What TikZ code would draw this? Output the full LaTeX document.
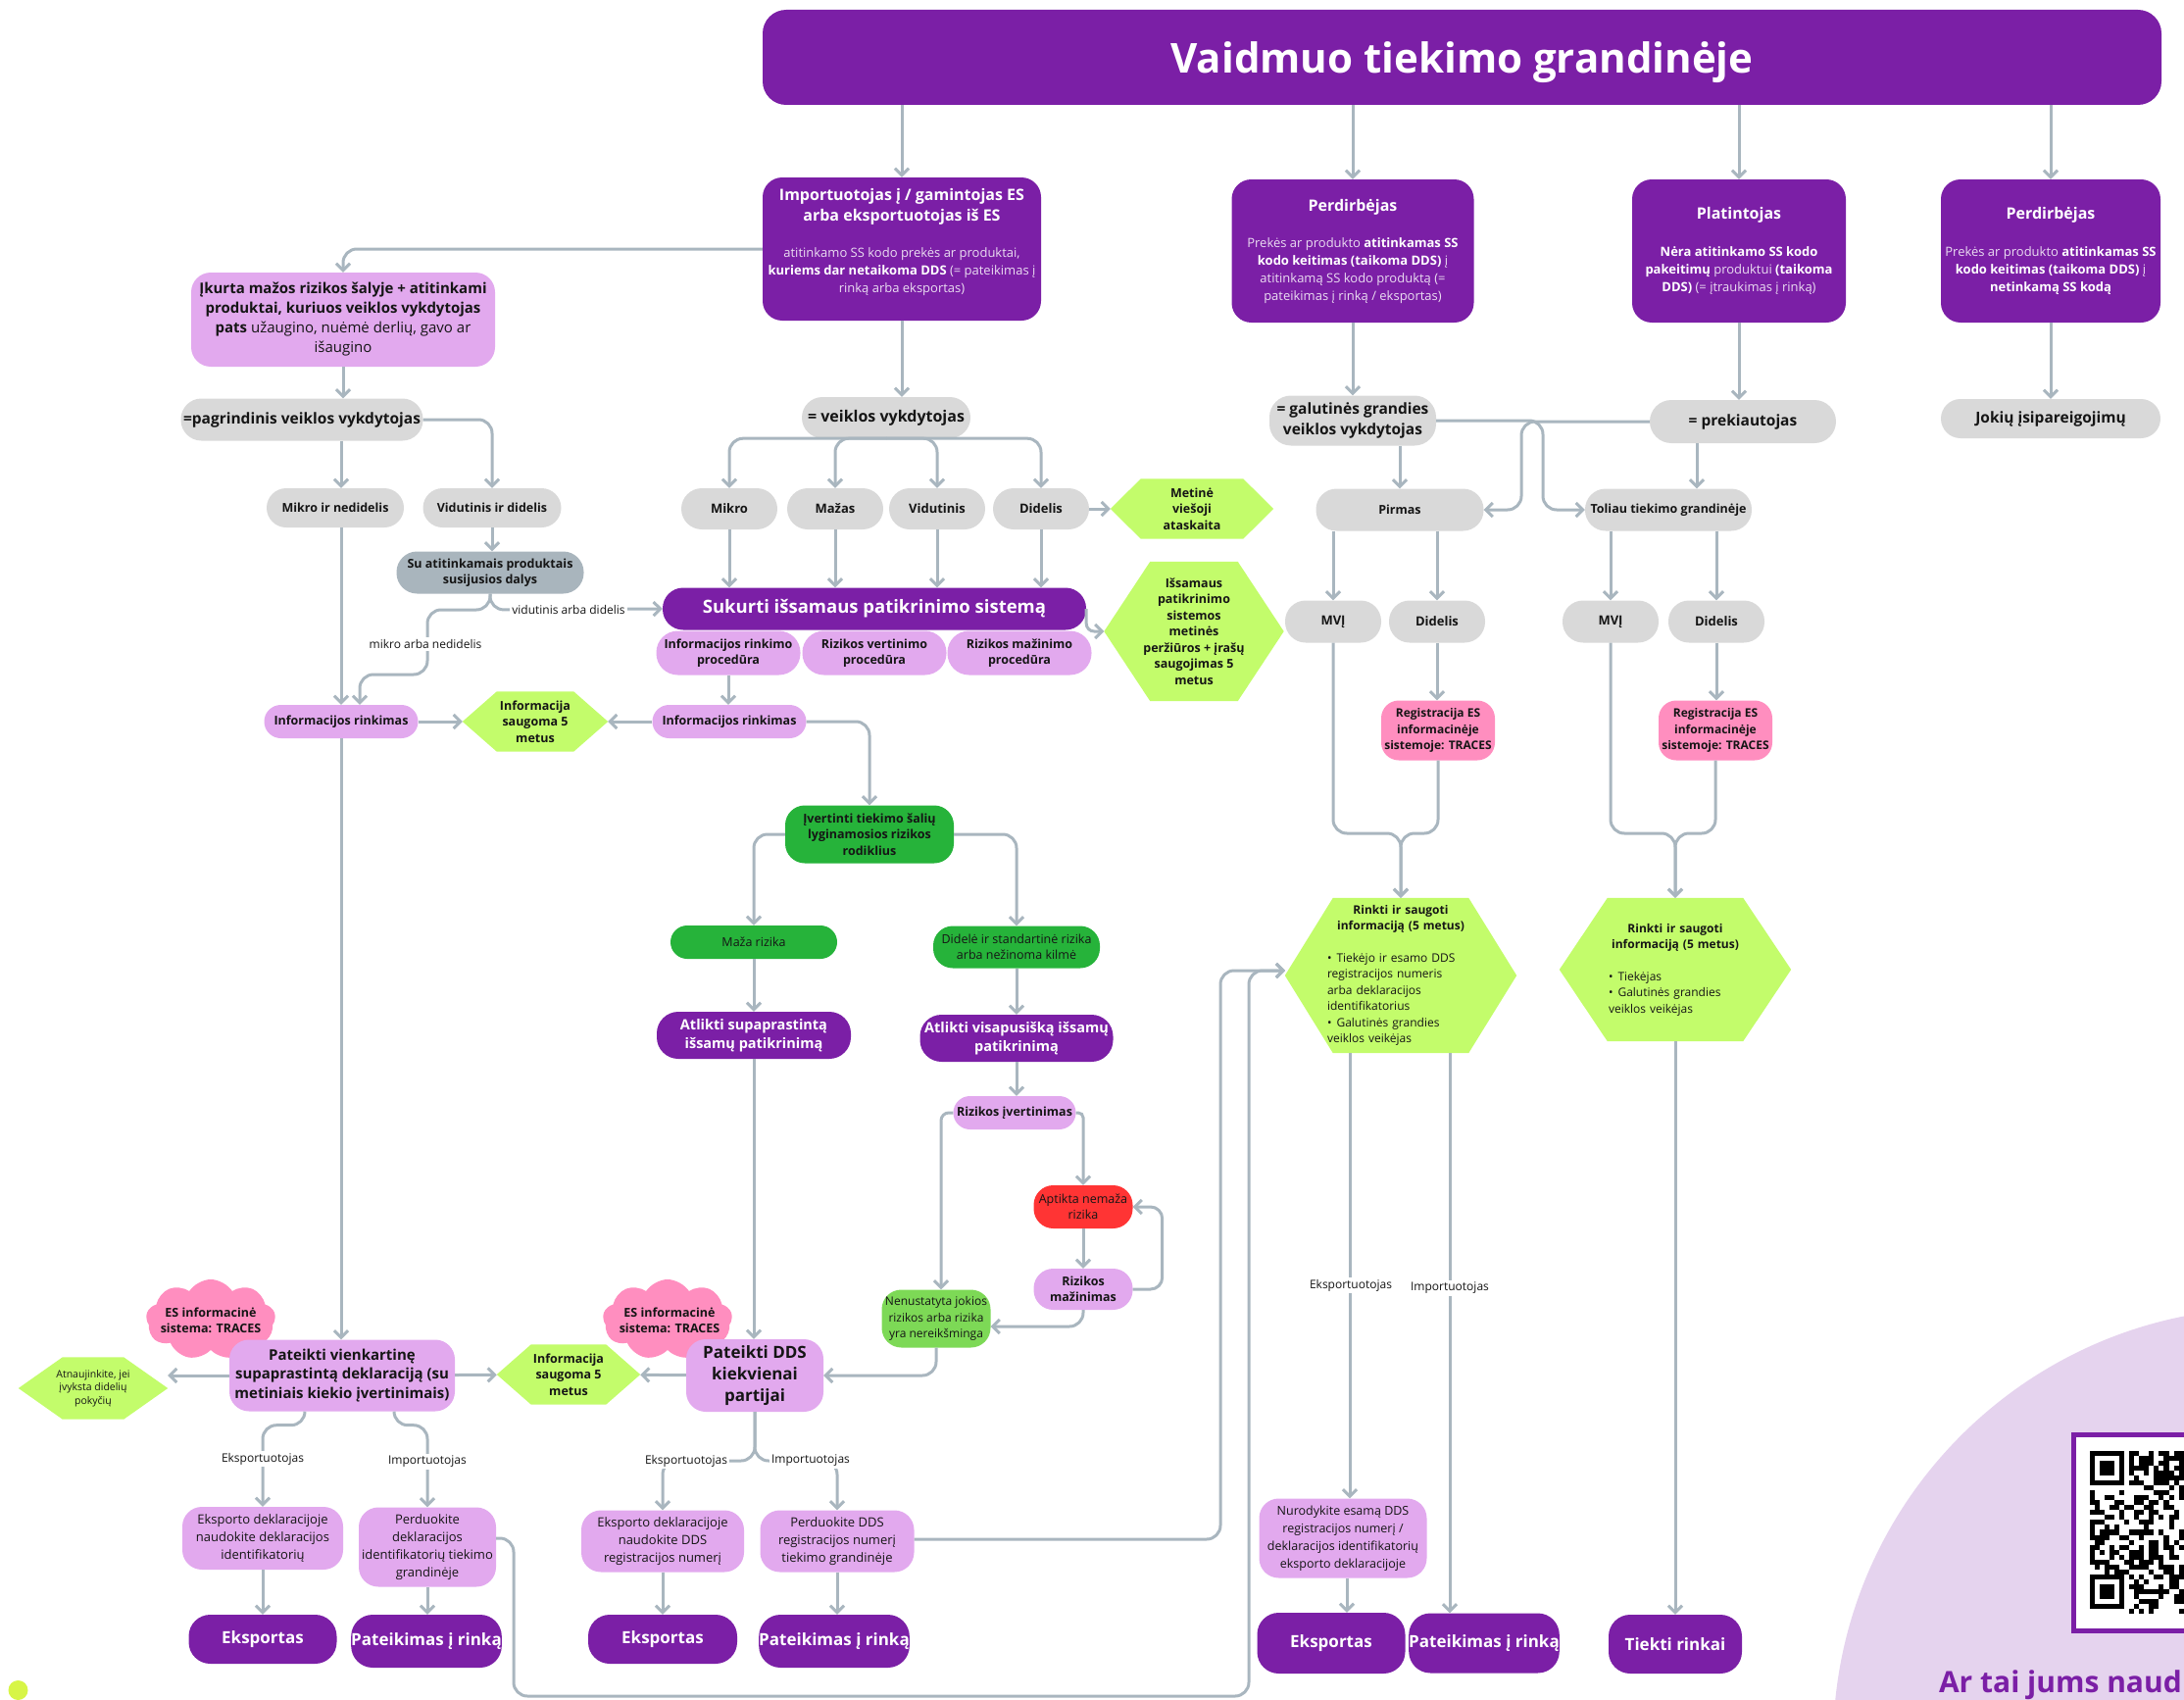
\documentclass[tikz,border=0pt]{standalone}
\usepackage{fontspec}
\setmainfont{Open Sans}
\usetikzlibrary{arrows.meta,shapes.symbols,calc}
\pgfdeclarelayer{bg}
\pgfsetlayers{bg,main}
\definecolor{purp}{HTML}{7B1FA6}
\definecolor{lil}{HTML}{E2A9EE}
\definecolor{grayc}{HTML}{D9D9D9}
\definecolor{bgray}{HTML}{A9B5BD}
\definecolor{limec}{HTML}{C3FC6B}
\definecolor{grn}{HTML}{26B33A}
\definecolor{lgrn}{HTML}{7DD956}
\definecolor{redc}{HTML}{FF3434}
\definecolor{pinkc}{HTML}{FF8EBF}
\definecolor{arrc}{HTML}{A9B6BF}
\definecolor{circc}{HTML}{E5D3EE}
\definecolor{dotc}{HTML}{D7F547}
\definecolor{txt}{HTML}{151515}
\definecolor{softw}{HTML}{EBDDF2}
\newcommand\fsz[2]{\fontsize{#1}{#2}\selectfont}
\newcommand\sw{\color{softw}}
\newcommand\bw[1]{\textbf{\color{white}#1}}
\newcommand\hexfill[2]{\fill[limec] (#1.west) -- ([xshift=#2pt]#1.north west) -- ([xshift=-#2pt]#1.north east) -- (#1.east) -- ([xshift=-#2pt]#1.south east) -- ([xshift=#2pt]#1.south west) -- cycle;}
\tikzset{
 nd/.style={inner sep=0pt, align=center, text=txt},
 wh/.style 2 args={minimum width=#1pt, minimum height=#2pt},
 pbox/.style={nd, fill=purp, text=white, rounded corners=20pt},
 lbox/.style={nd, fill=lil, rounded corners=17pt},
 gbox/.style={nd, fill=grayc, rounded corners=20pt},
 hexn/.style={nd},
 ar/.style={draw=arrc, line width=3pt, rounded corners=14pt, -{Straight Barb[length=7pt,width=14pt]}},
 lab/.style={fill=white, inner sep=2pt, text=txt, font=\fsz{12}{14}},
 bsm/.style={font=\fsz{12.5}{16.5}\bfseries},
 rsm/.style={font=\fsz{12.5}{16.5}},
 cloudn/.style={cloud, cloud puffs=9, cloud puff arc=115, aspect=1.6, fill=pinkc, draw=none, inner sep=0pt},
}
\begin{document}
\begin{tikzpicture}[x=1pt,y=-1pt]
\useasboundingbox (0,0) rectangle (2228,1734);
\begin{scope}
\clip (0,0) rectangle (2228,1734);
\fill[circc] (2315,1779) circle[radius=445pt];
\fill[white] (2113,1461) rectangle (2240,1666);
\draw[purp, line width=5pt] (2115.5,1463.5) rectangle (2245,1663.5);
\pgfmathsetseed{4711}
\foreach \i in {0,...,19}{\foreach \j in {0,...,32}{%
  \pgfmathrandominteger{\qv}{0}{99}%
  \ifnum\qv<48 \fill[black] ({2132+\i*5.03},{1480+\j*5.03}) rectangle ++(5.03,5.03);\fi}}
\foreach \yy in {1480,1605.75}{
  \fill[white] (2132,\yy) rectangle ++(40.24,40.24);
  \fill[black] (2132,\yy) rectangle ++(35.21,35.21);
  \fill[white] (2137.03,\yy+5.03) rectangle ++(25.15,25.15);
  \fill[black] (2142.06,\yy+10.06) rectangle ++(15.09,15.09);
}
\fill[dotc] (18.5,1724) circle[radius=10pt];
\end{scope}

% ---------- top ----------
\node[pbox, wh={1427}{97}, rounded corners=24pt, font=\fsz{42}{50}\bfseries, text depth=0pt] (title) at (1491.5,58.5) {Vaidmuo tiekimo grandinėje};

\node[pbox, wh={284}{146}, font=\fsz{13}{18}, text depth=18pt] (imp) at (920,254) {{\fsz{16}{21}\bfseries Importuotojas į / gamintojas ES}\\[3pt]{\fsz{16}{21}\bfseries arba eksportuotojas iš ES}\\[19pt]{\sw atitinkamo SS kodo prekės ar produktai,}\\{\bw{kuriems dar netaikoma DDS} {\sw (= pateikimas į}}\\{\sw rinką arba eksportas)}};
\node[pbox, wh={247}{146}, font=\fsz{13}{18}] (per1) at (1380,256) {{\fsz{16}{21}\bfseries Perdirbėjas}\\[19pt]{\sw Prekės ar produkto \bw{atitinkamas SS}}\\{\bw{kodo keitimas (taikoma DDS)} {\sw į}}\\{\sw atitinkamą SS kodo produktą (=}\\{\sw pateikimas į rinką / eksportas)}};
\node[pbox, wh={218}{146}, font=\fsz{13}{18}] (plat) at (1774,256) {{\fsz{16}{21}\bfseries Platintojas}\\[20pt]{\bw{Nėra atitinkamo SS kodo}}\\{\bw{pakeitimų} {\sw produktui} \bw{(taikoma}}\\{\bw{DDS)} {\sw (= įtraukimas į rinką)}}};
\node[pbox, wh={224}{146}, font=\fsz{13}{18}] (per2) at (2092,256) {{\fsz{16}{21}\bfseries Perdirbėjas}\\[20pt]{\sw Prekės ar produkto \bw{atitinkamas SS}}\\{\bw{kodo keitimas (taikoma DDS)} {\sw į}}\\{\bw{netinkamą SS kodą}}};

\node[lbox, wh={310}{96}, rounded corners=20pt, font=\fsz{15}{20}] (ikurta) at (350,326) {{\bfseries Įkurta mažos rizikos šalyje + atitinkami}\\{\bfseries produktai, kuriuos veiklos vykdytojas}\\\textbf{pats} užaugino, nuėmė derlių, gavo ar\\išaugino};

\node[gbox, wh={247}{43}, rounded corners=21pt, font=\fsz{15.5}{18}\bfseries] (pagr) at (308,428) {=pagrindinis veiklos vykdytojas};
\node[gbox, wh={172}{42}, rounded corners=21pt, font=\fsz{16}{18}\bfseries] (veik) at (904,426) {= veiklos vykdytojas};
\node[gbox, wh={170}{51}, rounded corners=22pt, font=\fsz{15.5}{21}\bfseries] (galut) at (1380,429) {= galutinės grandies\\veiklos vykdytojas};
\node[gbox, wh={190}{44}, rounded corners=22pt, font=\fsz{15.5}{18}\bfseries] (prek) at (1778,430) {= prekiautojas};
\node[gbox, wh={224}{40}, rounded corners=20pt, font=\fsz{15.5}{18}\bfseries] (jokiu) at (2092,427) {Jokių įsipareigojimų};

\node[gbox, wh={140}{40}, bsm] (mikron) at (342,518) {Mikro ir nedidelis};
\node[gbox, wh={141}{40}, bsm] (vidd) at (502,518) {Vidutinis ir didelis};
\node[gbox, wh={98}{42}, rounded corners=21pt, font=\fsz{13}{16}\bfseries] (mikro) at (744,519) {Mikro};
\node[gbox, wh={98}{42}, rounded corners=21pt, font=\fsz{13}{16}\bfseries] (mazas) at (852,519) {Mažas};
\node[gbox, wh={98}{42}, rounded corners=21pt, font=\fsz{13}{16}\bfseries] (vidut) at (956,519) {Vidutinis};
\node[gbox, wh={98}{42}, rounded corners=21pt, font=\fsz{13}{16}\bfseries] (didel) at (1062,519) {Didelis};
\node[hexn, wh={166}{61}, bsm] (metine) at (1216,519) {Metinė\\viešoji\\ataskaita};
\node[gbox, wh={171}{43}, rounded corners=21pt, bsm] (pirmas) at (1428,520) {Pirmas};
\node[gbox, wh={170}{43}, rounded corners=21pt, bsm] (toliau) at (1702,520) {Toliau tiekimo grandinėje};

\node[nd, fill=bgray, wh={191}{43}, rounded corners=21pt, font=\fsz{12.5}{16}\bfseries] (su) at (500,584) {Su atitinkamais produktais\\susijusios dalys};
\node[pbox, wh={432}{43}, rounded corners=21pt, font=\fsz{18.5}{22}\bfseries] (sukurti) at (892,621) {Sukurti išsamaus patikrinimo sistemą};
\node[lbox, wh={147}{45}, rounded corners=22pt, bsm] (irp) at (743,666) {Informacijos rinkimo\\procedūra};
\node[lbox, wh={147}{45}, rounded corners=22pt, bsm] (rvp) at (892,666) {Rizikos vertinimo\\procedūra};
\node[lbox, wh={147}{45}, rounded corners=22pt, bsm] (rmp) at (1040,666) {Rizikos mažinimo\\procedūra};
\node[hexn, wh={183}{142}, bsm] (iss) at (1218,644) {Išsamaus\\patikrinimo\\sistemos\\metinės\\peržiūros + įrašų\\saugojimas 5\\metus};

\node[gbox, wh={98}{43}, rounded corners=21pt, font=\fsz{13}{16}\bfseries] (mvi1) at (1360,634) {MVĮ};
\node[gbox, wh={98}{43}, rounded corners=21pt, font=\fsz{13}{16}\bfseries] (did1) at (1466,634) {Didelis};
\node[gbox, wh={98}{43}, rounded corners=21pt, font=\fsz{13}{16}\bfseries] (mvi2) at (1643,634) {MVĮ};
\node[gbox, wh={98}{43}, rounded corners=21pt, font=\fsz{13}{16}\bfseries] (did2) at (1751,634) {Didelis};
\node[nd, fill=pinkc, wh={116}{61}, rounded corners=18pt, font=\fsz{12}{16.5}\bfseries] (reg1) at (1467,745) {Registracija ES\\informacinėje\\sistemoje: TRACES};
\node[nd, fill=pinkc, wh={116}{61}, rounded corners=18pt, font=\fsz{12}{16.5}\bfseries] (reg2) at (1750,745) {Registracija ES\\informacinėje\\sistemoje: TRACES};

\node[lbox, wh={157}{34}, font=\fsz{12.5}{16}\bfseries] (infl) at (348,736) {Informacijos rinkimas};
\node[hexn, wh={148}{61}, bsm] (hexA) at (546,736) {Informacija\\saugoma 5\\metus};
\node[lbox, wh={157}{34}, font=\fsz{12.5}{16}\bfseries] (infr) at (744,736) {Informacijos rinkimas};

\node[nd, fill=grn, wh={172}{59}, rounded corners=20pt, bsm] (ivert) at (887,851) {Įvertinti tiekimo šalių\\lyginamosios rizikos\\rodiklius};
\node[nd, fill=grn, wh={170}{34}, rounded corners=17pt, rsm] (maza) at (769,961) {Maža rizika};
\node[nd, fill=grn, wh={170}{43}, rounded corners=20pt, rsm] (didele) at (1037,966) {Didelė ir standartinė rizika\\arba nežinoma kilmė};
\node[pbox, wh={198}{48}, rounded corners=22pt, font=\fsz{14.5}{19}\bfseries] (atl1) at (769,1056) {Atlikti supaprastintą\\išsamų patikrinimą};
\node[pbox, wh={197}{48}, rounded corners=22pt, font=\fsz{14.5}{19}\bfseries] (atl2) at (1037,1059) {Atlikti visapusišką išsamų\\patikrinimą};
\node[lbox, wh={125}{34}, font=\fsz{12.5}{16}\bfseries] (rizv) at (1035,1135) {Rizikos įvertinimas};
\node[nd, fill=redc, wh={101}{44}, rounded corners=20pt, rsm] (aptikta) at (1105,1231) {Aptikta nemaža\\rizika};
\node[lbox, wh={101}{42}, rounded corners=20pt, bsm] (rizm) at (1105,1315) {Rizikos\\mažinimas};
\node[nd, fill=lgrn, wh={111}{59}, rounded corners=20pt, font=\fsz{12}{16.5}] (nenust) at (955,1345) {Nenustatyta jokios\\rizikos arba rizika\\yra nereikšminga};

\node[hexn, wh={236}{158}, text width=150pt, align=left, font=\fsz{12}{16.5}] (rk1) at (1429,995) {\parindent=0pt{\centering\bfseries Rinkti ir saugoti\\informaciją (5 metus)\par}\vspace{16pt}\hangindent=11pt\hangafter=1 \textbullet\hspace{5pt}Tiekėjo ir esamo DDS\\registracijos numeris\\arba deklaracijos\\identifikatorius\par\hangindent=11pt\hangafter=1 \textbullet\hspace{5pt}Galutinės grandies\\veiklos veikėjas\par};
\node[hexn, wh={236}{146}, text width=136pt, align=left, font=\fsz{12}{16.5}] (rk2) at (1709,989) {\parindent=0pt{\centering\bfseries Rinkti ir saugoti\\informaciją (5 metus)\par}\vspace{16pt}\hangindent=11pt\hangafter=1 \textbullet\hspace{5pt}Tiekėjas\par\hangindent=11pt\hangafter=1 \textbullet\hspace{5pt}Galutinės grandies\\veiklos veikėjas\par};
\coordinate (rk1in) at (1311,990);

% ---------- bottom ----------
\node[cloudn, wh={132}{82}] (cl1) at (215,1346) {};
\node[nd, bsm] (cl1t) at (215,1347) {ES informacinė\\sistema: TRACES};
\node[cloudn, wh={132}{82}] (cl2) at (681,1346) {};
\node[nd, bsm] (cl2t) at (683,1347) {ES informacinė\\sistema: TRACES};
\node[lbox, wh={230}{73}, rounded corners=20pt, font=\fsz{15}{19.5}\bfseries] (pv) at (349,1403) {Pateikti vienkartinę\\supaprastintą deklaraciją (su\\metiniais kiekio įvertinimais)};
\node[lbox, wh={140}{74}, rounded corners=20pt, font=\fsz{17}{22}\bfseries] (pdds) at (770,1403) {Pateikti DDS\\kiekvienai\\partijai};
\node[hexn, wh={146}{61}, bsm] (hexB) at (580,1402) {Informacija\\saugoma 5\\metus};
\node[hexn, wh={152}{63}, font=\fsz{10.5}{13.5}] (atn) at (95,1416) {Atnaujinkite, jei\\įvyksta didelių\\pokyčių};

\node[lbox, wh={164}{64}, rounded corners=20pt, font=\fsz{13}{18}] (eks1) at (268,1569) {Eksporto deklaracijoje\\naudokite deklaracijos\\identifikatorių};
\node[lbox, wh={140}{81}, rounded corners=20pt, font=\fsz{13}{18}] (perd1) at (436,1578) {Perduokite\\deklaracijos\\identifikatorių tiekimo\\grandinėje};
\node[pbox, wh={151}{50}, rounded corners=22pt, font=\fsz{17}{20}\bfseries] (eksp1) at (268,1672) {Eksportas};
\node[pbox, wh={151}{54}, rounded corners=22pt, font=\fsz{17}{20}\bfseries] (pat1) at (435,1674) {Pateikimas į rinką};
\node[lbox, wh={166}{63}, rounded corners=20pt, font=\fsz{13}{18}] (eks2) at (676,1572) {Eksporto deklaracijoje\\naudokite DDS\\registracijos numerį};
\node[lbox, wh={157}{63}, rounded corners=20pt, font=\fsz{13}{18}] (perd2) at (854,1572) {Perduokite DDS\\registracijos numerį\\tiekimo grandinėje};
\node[pbox, wh={152}{50}, rounded corners=22pt, font=\fsz{17}{20}\bfseries] (eksp2) at (676,1672) {Eksportas};
\node[pbox, wh={152}{54}, rounded corners=22pt, font=\fsz{17}{20}\bfseries] (pat2) at (851,1674) {Pateikimas į rinką};
\node[lbox, wh={171}{81}, rounded corners=20pt, font=\fsz{12.5}{18}] (nurod) at (1370,1569) {Nurodykite esamą DDS\\registracijos numerį /\\deklaracijos identifikatorių\\eksporto deklaracijoje};
\node[pbox, wh={151}{62}, rounded corners=22pt, font=\fsz{17}{20}\bfseries] (eksp3) at (1358,1676) {Eksportas};
\node[pbox, wh={152}{61}, rounded corners=22pt, font=\fsz{17}{20}\bfseries] (pat3) at (1514,1676) {Pateikimas į rinką};
\node[pbox, wh={136}{60}, rounded corners=22pt, font=\fsz{17}{20}\bfseries] (tiekti) at (1709,1677) {Tiekti rinkai};

% ---------- hexagon fills ----------
\begin{pgfonlayer}{bg}
\hexfill{hexA}{35}
\hexfill{hexB}{35}
\hexfill{metine}{31}
\hexfill{iss}{47}
\hexfill{atn}{45}
\hexfill{rk1}{49}
\hexfill{rk2}{49}
\end{pgfonlayer}

% ---------- connectors ----------
\draw[ar] (title.south -| imp) -- (imp);
\draw[ar] (title.south -| per1) -- (per1);
\draw[ar] (title.south -| plat) -- (plat);
\draw[ar] (title.south -| per2) -- (per2);
\draw[ar] (imp.west) -| (ikurta);
\draw[ar] (ikurta.south) -- (ikurta.south |- pagr.north);
\draw[ar] (pagr.south -| infl) -- (infl |- mikron.north);
\draw[ar] (pagr.east) -| (vidd);
\draw[ar] (vidd) -- (vidd |- su.north);
\draw[ar] (su.south) -- (su.south |- 0,622) -- (sukurti.west);
\draw[ar] (su.south) -- (su.south |- 0,622) -- (436,622) -- (436,688) -- (367,688) -- (367,0 |- infl.north);
\draw[ar] (infl |- mikron.south) -- (infl);
\draw[ar] (infl) -- (hexA);
\draw[ar] (infr) -- (hexA);
\draw[ar] (infl) -- (infl |- pv.north);

\draw[ar] (imp.south) -- (imp.south |- veik.north);
\foreach \n in {mikro,mazas,vidut,didel} \draw[ar] (veik.south) -| (\n);
\foreach \n in {mikro,mazas,vidut,didel} \draw[ar] (\n) -- (\n |- sukurti.north);
\draw[ar] (didel) -- (metine);
\draw[ar, rounded corners=8pt] (sukurti.east) |- (iss.west);
\draw[ar] (irp) -- (irp |- infr.north);
\draw[ar] (infr.east) -| (ivert);
\draw[ar] (ivert.west) -| (maza);
\draw[ar] (ivert.east) -| (didele);
\draw[ar] (maza) -- (atl1);
\draw[ar] (didele) -- (atl2);
\draw[ar] (atl2.south) -- (atl2.south |- rizv.north);
\draw[ar, rounded corners=8pt] (rizv.west) -| (nenust.north -| 960,0);
\draw[ar, rounded corners=5pt] (rizv.east) -| (aptikta);
\draw[ar] (aptikta) -- (rizm);
\draw[ar, rounded corners=12pt] (rizm.east) -- ++(30,0) |- (aptikta.east);
\draw[ar] (rizm.south) |- (nenust.east |- 0,1353);
\draw[ar] (nenust.south) |- (pdds.east);
\draw[ar] (atl1) -- (atl1 |- pdds.north);
\draw[ar] (pdds) -- (hexB);
\draw[ar] (pv) -- (hexB);
\draw[ar] (pv.west) -- (pv.west -| atn.east);
\draw[ar] ([xshift=-38pt]pv.south) -- ++(0,14) -| (eks1);
\draw[ar] ([xshift=53pt]pv.south) -- ++(0,14) -| (perd1);
\draw[ar] (eks1) -- (eksp1);
\draw[ar] (perd1) -- (perd1 |- pat1.north);
\draw[ar] (perd1.east |- 0,1569) -| (524,1730) -| (1274,990) -- (rk1in);
\draw[ar] (pdds.south) -- (770,1490) -| (eks2);
\draw[ar] (pdds.south) -- (770,1490) -| (perd2);
\draw[ar] (eks2) -- (eksp2);
\draw[ar] (perd2) -- (perd2 |- pat2.north);
\draw[ar] (perd2.east |- 0,1570) -| (1245,990) -- (rk1in);

\draw[ar] (per1) -- (galut);
\draw[ar] (plat.south) -- (plat.south |- prek.north);
\draw[ar] (per2) -- (jokiu);
\draw[ar] (galut.east) -- (1574,429) -- (1574,520) -- (toliau.west);
\draw[ar] (prek.west) -- (1552,430) -- (1552,520) -- (pirmas.east);
\draw[ar] (pirmas.north |- galut.south) -- (pirmas.north);
\draw[ar] (1731,0 |- prek.south) -- (1731,0 |- toliau.north);
\draw[ar] (mvi1 |- pirmas.south) -- (mvi1);
\draw[ar] (did1 |- pirmas.south) -- (did1);
\draw[ar] (mvi2 |- toliau.south) -- (mvi2);
\draw[ar] (did2 |- toliau.south) -- (did2);
\draw[ar] (did1) -- (did1 |- reg1.north);
\draw[ar] (did2) -- (did2 |- reg2.north);
\draw[ar] (mvi1) -- (mvi1 |- 0,850) -- (1429,850) -- (1429,0 |- rk1.north);
\draw[ar] (reg1) -- (reg1 |- 0,850) -- (1429,850) -- (1429,0 |- rk1.north);
\draw[ar] (mvi2) -- (mvi2 |- 0,850) -- (1709,850) -- (1709,0 |- rk2.north);
\draw[ar] (reg2) -- (reg2 |- 0,850) -- (1709,850) -- (1709,0 |- rk2.north);
\draw[ar] (1377,0 |- rk1.south) -- (1377,0 |- nurod.north);
\draw[ar] (1479,0 |- rk1.south) -- (1479,0 |- pat3.north);
\draw[ar] (nurod.south -| 1374,0) -- (1374,0 |- eksp3.north);
\draw[ar] (rk2) -- (tiekti);

% ---------- labels ----------
\node[lab] (l1) at (580,622) {vidutinis arba didelis};
\node[lab] (l2) at (434,657) {mikro arba nedidelis};
\node[lab] (l3) at (268,1488) {Eksportuotojas};
\node[lab] (l4) at (436,1491) {Importuotojas};
\node[lab] (l5) at (700,1490) {Eksportuotojas};
\node[lab] (l6) at (827,1490) {Importuotojas};
\node[lab] (l7) at (1378,1311) {Eksportuotojas};
\node[lab] (l8) at (1479,1314) {Importuotojas};

\node[anchor=base east, inner sep=0pt, text=purp, font=\fsz{30}{34}\bfseries] (ask) at (2226,1726) {Ar tai jums naud};
\end{tikzpicture}
\end{document}
